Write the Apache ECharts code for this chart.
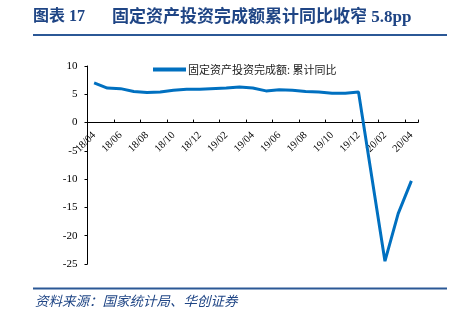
<!DOCTYPE html>
<html><head><meta charset="utf-8">
<script src="https://cdn.jsdelivr.net/npm/echarts@6/dist/echarts.min.js"></script>
<style>html,body{margin:0;padding:0;background:#fff}#c{width:462px;height:323px}</style>
</head><body><div id="c"></div>
<script>
const categories = ['18/04','18/05','18/06','18/07','18/08','18/09','18/10','18/11','18/12',
  '19/01','19/02','19/03','19/04','19/05','19/06','19/07','19/08','19/09','19/10','19/11','19/12',
  '20/01','20/02','20/03','20/04'];
const faiYoY = [7.0,6.1,6.0,5.5,5.3,5.4,5.7,5.9,5.9,
  null,6.1,6.3,6.1,5.6,5.8,5.7,5.5,5.4,5.2,5.2,5.4,
  null,-24.5,-16.1,-10.3];
const yTicks = {min:-25, max:10, interval:5};
const seriesName = '固定资产投资完成额: 累计同比';
const titleA = '图表 17';
const titleB = '固定资产投资完成额累计同比收窄 5.8pp';
const sourceText = '资料来源：国家统计局、华创证券';

const chart = echarts.init(document.getElementById('c'), null, {renderer:'canvas'});
const serif = '"Liberation Serif","Times New Roman","Noto Sans CJK SC",serif';
const blue = '#1f4585';
const gridTop = 66, gridBottom = 59, gridH = 323 - gridTop - gridBottom;
const zeroOffset = -gridH * (0 - yTicks.min) / (yTicks.max - yTicks.min);
chart.setOption({
  animation:false,
  grid:{left:87.5, right:44, top:gridTop, bottom:gridBottom, containLabel:false},
  legend:{
    left:148, top:59, icon:'rect', itemWidth:33, itemHeight:4, itemGap:0,
    textStyle:{fontFamily:'"Noto Sans CJK SC",sans-serif', fontSize:11, color:'#222', padding:[0,0,0,-3]},
    data:[seriesName]
  },
  xAxis:{
    type:'category', data:categories, boundaryGap:true, offset:zeroOffset,
    axisLine:{onZero:false, lineStyle:{color:'#000', width:1}},
    axisTick:{show:true, inside:true, length:3, interval:1, lineStyle:{color:'#000'}},
    axisLabel:{interval:1, rotate:45, fontFamily:serif, fontSize:10.5, color:'#000', margin:11},
    splitLine:{show:false}
  },
  yAxis:{
    type:'value', min:yTicks.min, max:yTicks.max, interval:yTicks.interval,
    axisLine:{show:true, lineStyle:{color:'#000', width:1}},
    axisTick:{show:true, length:3, lineStyle:{color:'#000'}},
    axisLabel:{fontFamily:serif, fontSize:11, color:'#000', margin:10},
    splitLine:{show:false}
  },
  series:[{
    name:seriesName, type:'line', data:faiYoY, connectNulls:true,
    symbol:'none', lineStyle:{color:'#0070c0', width:3}, itemStyle:{color:'#0070c0'}
  }],
  graphic:[
    {type:'text', left:33, top:9, style:{text:titleA, fontFamily:serif, fontWeight:'bold', fontSize:16, fill:blue}},
    {type:'text', left:112, top:9, style:{text:titleB, fontFamily:serif, fontWeight:'bold', fontSize:17, fill:blue}},
    {type:'line', shape:{x1:33, y1:35, x2:447, y2:35}, style:{stroke:'#2b5896', lineWidth:2}},
    {type:'line', shape:{x1:33, y1:288.5, x2:447, y2:288.5}, style:{stroke:'#2b5896', lineWidth:2}},
    {type:'text', left:35, top:294, style:{text:sourceText, fontFamily:'"Noto Sans CJK SC",sans-serif', fontStyle:'italic', fontSize:13.5, fill:blue}}
  ]
});
</script></body></html>
